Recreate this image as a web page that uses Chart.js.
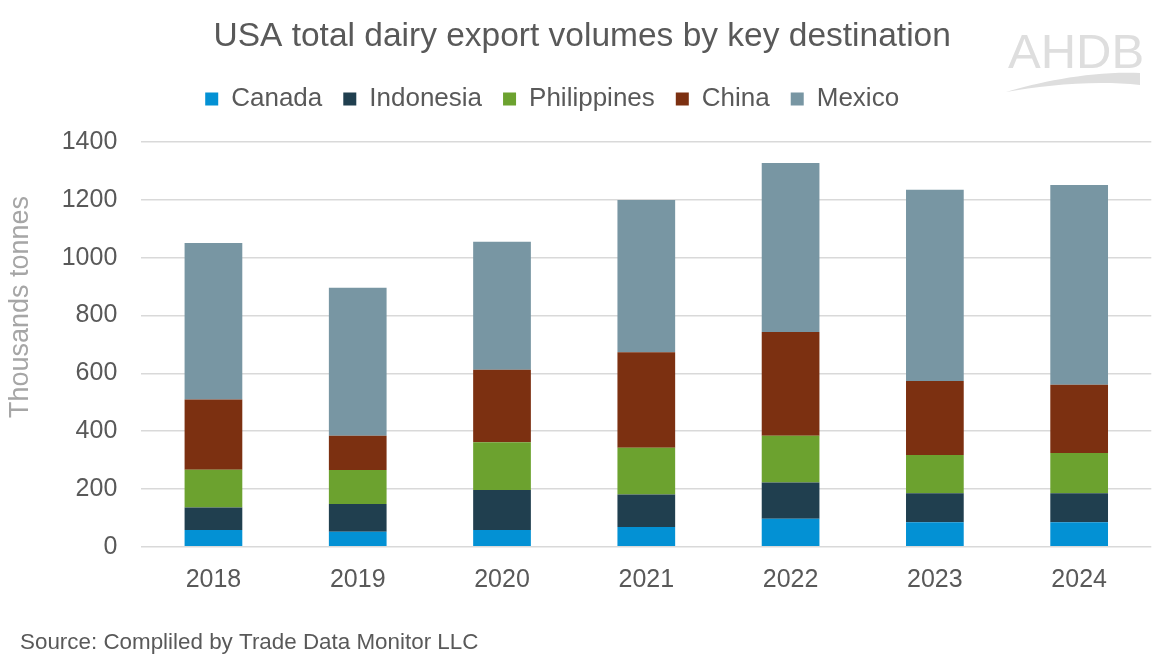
<!DOCTYPE html>
<html>
<head>
<meta charset="utf-8">
<title>USA total dairy export volumes by key destination</title>
<script src="https://cdn.jsdelivr.net/npm/chart.js@4.4.1/dist/chart.umd.min.js"></script>
<style>
    html, body { margin: 0; padding: 0; background: #ffffff; }
    #wrap { width: 1162px; height: 662px; }
</style>
</head>
<body>
<div id="wrap"><canvas id="exportChart" width="1162" height="662"></canvas></div>
<script>
// Chart data (thousand tonnes)
const years = ['2018', '2019', '2020', '2021', '2022', '2023', '2024'];
const canada = [58, 52, 58, 68, 97, 85, 85];
const indonesia = [78, 96, 138, 113, 125, 100, 100];
const philippines = [130, 117, 165, 161, 162, 132, 139];
const china = [243, 119, 251, 331, 359, 256, 236];
const mexico = [542, 512, 443, 526, 584, 662, 691];

const FONT = '"Liberation Sans", Arial, sans-serif';
const TEXT_GREY = '#595959';

// Extra drawing: title/legend placement, axis title, source line and logo
const overlayPlugin = {
    id: 'overlay',
    afterLayout(chart) {
        const tb = chart.titleBlock;
        if (tb) {
            tb.left = tb.left + 13;
            tb.width = tb.right - tb.left;
        }
        const lg = chart.legend;
        if (!lg) return;
        const h = lg.height;
        lg.top = 65;
        lg.bottom = 65 + h;
        lg.right = lg.right - 47;
        lg.width = lg.right - lg.left;
    },
    afterDraw(chart) {
        const ctx = chart.ctx;
        ctx.save();

        // y axis title
        ctx.translate(21, 307);
        ctx.rotate(-Math.PI / 2);
        ctx.font = '27px ' + FONT;
        ctx.fillStyle = '#a6a6a6';
        ctx.textAlign = 'center';
        ctx.textBaseline = 'middle';
        ctx.fillText('Thousands tonnes', 0, 0);
        ctx.restore();

        // source note
        ctx.save();
        ctx.font = '22.4px ' + FONT;
        ctx.fillStyle = TEXT_GREY;
        ctx.textAlign = 'left';
        ctx.textBaseline = 'middle';
        ctx.fillText('Source: Compliled by Trade Data Monitor LLC', 20, 643);

        // AHDB watermark
        ctx.font = '49px ' + FONT;
        ctx.fillStyle = '#dedede';
        ctx.textBaseline = 'alphabetic';
        ctx.fillText('AHDB', 1008, 68);
        ctx.beginPath();
        ctx.moveTo(1006, 92);
        ctx.bezierCurveTo(1040, 82, 1090, 71, 1140, 73);
        ctx.lineTo(1140, 85);
        ctx.bezierCurveTo(1095, 80, 1045, 85, 1006, 92);
        ctx.closePath();
        ctx.fill();
        ctx.restore();
    }
};

const ctx = document.getElementById('exportChart').getContext('2d');

new Chart(ctx, {
    type: 'bar',
    data: {
        labels: years,
        datasets: [
            { label: 'Canada', data: canada, backgroundColor: '#0391d4' },
            { label: 'Indonesia', data: indonesia, backgroundColor: '#203f4f' },
            { label: 'Philippines', data: philippines, backgroundColor: '#6ca22f' },
            { label: 'China', data: china, backgroundColor: '#7c3011' },
            { label: 'Mexico', data: mexico, backgroundColor: '#7896a3' }
        ]
    },
    options: {
        responsive: false,
        animation: false,
        devicePixelRatio: 1,
        datasets: {
            bar: {
                barPercentage: 0.4,
                categoryPercentage: 1.0,
                borderWidth: 0
            }
        },
        layout: {
            padding: { top: 0, left: 0, right: 10.7, bottom: 0 }
        },
        plugins: {
            title: {
                display: true,
                text: 'USA total dairy export volumes by key destination',
                color: TEXT_GREY,
                font: { family: FONT, size: 33.5, weight: 'normal' },
                padding: { top: 17, bottom: 27.8 }
            },
            legend: {
                display: true,
                position: 'top',
                labels: {
                    color: TEXT_GREY,
                    font: { family: FONT, size: 26 },
                    boxWidth: 13,
                    boxHeight: 13,
                    padding: 21
                }
            },
            tooltip: { enabled: false }
        },
        scales: {
            x: {
                stacked: true,
                grid: { display: false },
                border: { display: false },
                ticks: {
                    color: TEXT_GREY,
                    font: { family: FONT, size: 25 },
                    padding: 10.6,
                    maxRotation: 0
                },
                afterFit(scale) {
                    scale.height = 115.3;
                }
            },
            y: {
                stacked: true,
                min: 0,
                max: 1400,
                grid: {
                    color: '#d9d9d9',
                    lineWidth: 1.5,
                    drawTicks: false
                },
                border: { display: false },
                ticks: {
                    stepSize: 200,
                    color: TEXT_GREY,
                    font: { family: FONT, size: 25 },
                    padding: 24,
                    callback: (value) => String(value)
                },
                afterFit(scale) {
                    scale.width = 141.3;
                }
            }
        }
    },
    plugins: [overlayPlugin]
});
</script>
</body>
</html>
